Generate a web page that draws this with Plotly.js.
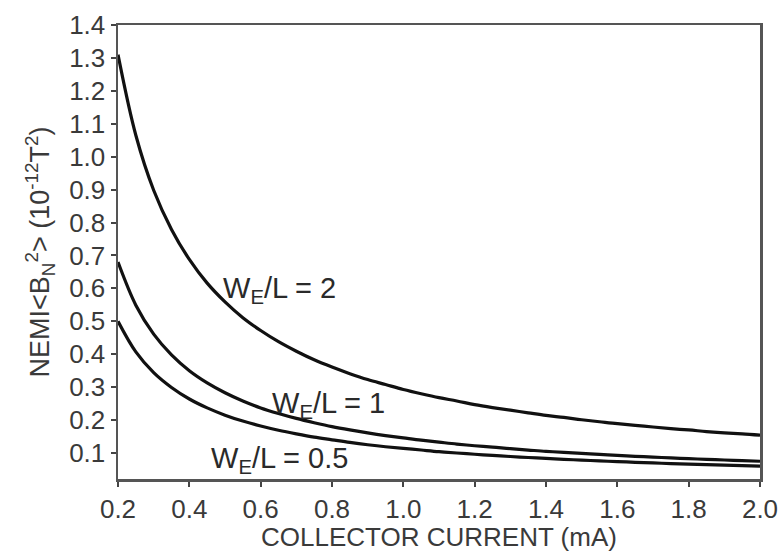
<!DOCTYPE html>
<html>
<head>
<meta charset="utf-8">
<script src="https://cdn.plot.ly/plotly-3.0.1.min.js"></script>
<style>html,body{margin:0;padding:0;background:#fff;}#chart{width:782px;height:552px;}</style>
</head>
<body>
<div id="chart"></div>
<script>
// Collector current (mA)
const current = [0.2, 0.25, 0.3, 0.35, 0.4, 0.45, 0.5, 0.55, 0.6, 0.65, 0.7, 0.75, 0.8, 0.85, 0.9, 0.95,
  1.0, 1.05, 1.1, 1.15, 1.2, 1.25, 1.3, 1.35, 1.4, 1.45, 1.5, 1.55, 1.6, 1.65, 1.7, 1.75, 1.8, 1.85, 1.9, 1.95, 2.0];
// NEMI <B_N^2> (1e-12 T^2) for each emitter width ratio
const nemiWE2 = [1.31, 1.065, 0.898, 0.779, 0.688, 0.616, 0.559, 0.511, 0.472, 0.438, 0.409, 0.383, 0.361, 0.341, 0.323, 0.308,
  0.293, 0.280, 0.268, 0.258, 0.247, 0.238, 0.230, 0.222, 0.214, 0.208, 0.201, 0.195, 0.189, 0.184, 0.179, 0.174, 0.170, 0.165, 0.161, 0.158, 0.154];
const nemiWE1 = [0.68, 0.549, 0.461, 0.398, 0.350, 0.313, 0.283, 0.258, 0.237, 0.220, 0.205, 0.192, 0.180, 0.170, 0.161, 0.153,
  0.146, 0.139, 0.133, 0.127, 0.122, 0.118, 0.113, 0.109, 0.105, 0.102, 0.0987, 0.0956, 0.0927, 0.0900, 0.0875, 0.0851, 0.0828, 0.0807, 0.0787, 0.0767, 0.0749];
const nemiWE05 = [0.50, 0.407, 0.344, 0.299, 0.264, 0.237, 0.215, 0.197, 0.182, 0.169, 0.158, 0.148, 0.140, 0.132, 0.125, 0.119,
  0.114, 0.109, 0.104, 0.100, 0.0962, 0.0927, 0.0893, 0.0863, 0.0835, 0.0808, 0.0783, 0.0760, 0.0738, 0.0718, 0.0698, 0.0680, 0.0662, 0.0646, 0.0630, 0.0615, 0.0601];
const seriesLabels = ["W<sub>E</sub>/L = 2", "W<sub>E</sub>/L = 1", "W<sub>E</sub>/L = 0.5"];
const labelX = [0.652, 0.79, 0.652];
const labelY = [0.595, 0.245, 0.078];
const xTicks = [0.2, 0.4, 0.6, 0.8, 1.0, 1.2, 1.4, 1.6, 1.8, 2.0];
const yTicks = [0.1, 0.2, 0.3, 0.4, 0.5, 0.6, 0.7, 0.8, 0.9, 1.0, 1.1, 1.2, 1.3, 1.4];

const lineStyle = {color: '#111', width: 3.2, shape: 'spline', smoothing: 1};
const traces = [nemiWE2, nemiWE1, nemiWE05].map((ys, i) => ({
  x: current, y: ys, type: 'scatter', mode: 'lines', line: lineStyle,
  name: seriesLabels[i], showlegend: false, hoverinfo: 'skip'
}));

const fam = 'Liberation Sans, Arial, sans-serif';
const layout = {
  width: 782, height: 552,
  margin: {l: 118, r: 22, t: 25, b: 73},
  paper_bgcolor: '#fff', plot_bgcolor: '#fff',
  showlegend: false,
  font: {family: fam, color: '#333'},
  xaxis: {
    range: [0.2, 2.0], tickvals: xTicks, ticktext: xTicks.map(v => v.toFixed(1)),
    showgrid: false, zeroline: false, showline: true, mirror: true,
    linecolor: '#555', linewidth: 2.5, ticks: 'outside', ticklen: 5, tickwidth: 2, tickcolor: '#444',
    tickfont: {family: fam, size: 26, color: '#3a3a3a'},
    title: {text: 'COLLECTOR CURRENT (mA)', font: {family: fam, size: 26, color: '#3a3a3a'}, standoff: 0}
  },
  yaxis: {
    range: [0.021, 1.4], tickvals: yTicks, ticktext: yTicks.map(v => v.toFixed(1)),
    showgrid: false, zeroline: false, showline: true, mirror: true,
    linecolor: '#555', linewidth: 2.5, ticks: 'outside', ticklen: 5, tickwidth: 2, tickcolor: '#444',
    tickfont: {family: fam, size: 26, color: '#3a3a3a'},
    title: {text: 'NEMI&lt;B<sub>N</sub><sup>2</sup>&gt; (10<sup>-12</sup>T<sup>2</sup>)', font: {family: fam, size: 27, color: '#3a3a3a'}, standoff: 12}
  },
  annotations: seriesLabels.map((t, i) => ({
    x: labelX[i], y: labelY[i], xref: 'x', yref: 'y', text: t, showarrow: false,
    font: {family: fam, size: 29, color: '#2a2a2a'}
  }))
};

Plotly.newPlot('chart', traces, layout, {staticPlot: true, displayModeBar: false});
</script>
</body>
</html>
